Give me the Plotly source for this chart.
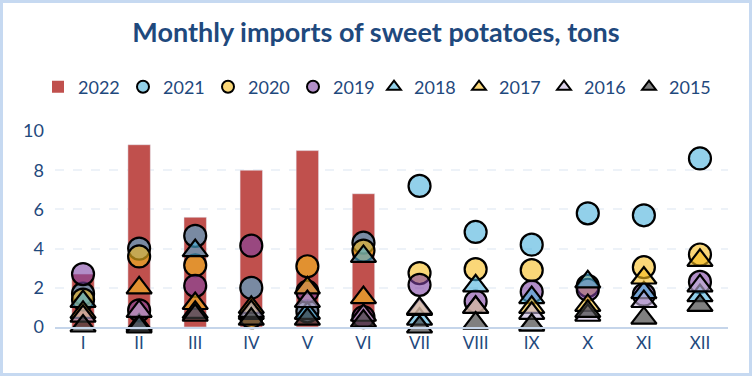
import plotly.graph_objects as go

months = ["I", "II", "III", "IV", "V", "VI", "VII", "VIII", "IX", "X", "XI", "XII"]
y2022 = [2.7, 9.3, 5.6, 8.0, 9.0, 6.8, None, None, None, None, None, None]
y2021 = [1.7, 4.0, 4.65, 2.0, 0.8, 4.3, 7.2, 4.85, 4.2, 5.8, 5.7, 8.6]
y2020 = [1.4, 3.6, 3.15, 0.5, 3.1, 3.9, 2.75, 2.95, 2.9, 2.1, 3.05, 3.7]
y2019 = [2.7, 0.85, 2.1, 4.15, 1.8, 0.5, 2.15, 1.3, 1.8, 1.9, 1.65, 2.3]
y2018 = [1.3, 0.1, 3.9, 0.7, 0.7, 3.6, 0.4, 2.1, 1.5, 2.3, 1.75, 1.6]
y2017 = [0.75, 2.0, 1.2, 1.0, 2.0, 1.5, 0.9, 1.0, 1.0, 1.1, 2.5, 3.4]
y2016 = [0.55, 0.8, 0.75, 0.8, 1.3, 0.6, 0.95, 1.0, 0.7, 0.6, 1.3, 2.1]
y2015 = [0.05, 0.0, 0.6, 0.4, 0.4, 0.3, 0.0, 0.2, 0.1, 0.8, 0.45, 1.1]
y_ticks = [0, 2, 4, 6, 8, 10]

TXT = "#1F497D"
FONT = "Lato"

fig = go.Figure()
fig.add_trace(go.Bar(x=months, y=y2022, name="2022", marker=dict(color="#C0504D"),
                     width=0.4, showlegend=False))

series = [
    ("2021", y2021, "circle", "rgba(73,177,220,0.6)", "rgb(146,208,232)"),
    ("2020", y2020, "circle", "rgba(247,188,30,0.6)", "rgb(250,215,120)"),
    ("2019", y2019, "circle", "rgba(127,67,163,0.6)", "rgb(178,142,200)"),
    ("2018", y2018, "triangle-up", "rgba(73,177,220,0.6)", "rgb(146,208,232)"),
    ("2017", y2017, "triangle-up", "rgba(247,188,30,0.6)", "rgb(250,215,120)"),
    ("2016", y2016, "triangle-up", "rgba(193,177,217,0.6)", "rgb(218,208,232)"),
    ("2015", y2015, "triangle-up", "rgba(60,60,60,0.65)", "rgb(127,127,127)"),
]
for name, ys, sym, col, lcol in series:
    fig.add_trace(go.Scatter(
        x=months, y=ys, name=name, mode="markers", cliponaxis=False, showlegend=False,
        marker=dict(symbol=sym, size=22, color=col,
                    line=dict(color="black", width=2.2)),
    ))

# legend-only entries (small symbols like the reference legend), split in two legends
fig.add_trace(go.Scatter(x=[None], y=[None], name="2022", mode="markers", legend="legend",
                         marker=dict(symbol="square", size=12, color="#C0504D")))
for i, (name, ys, sym, col, lcol) in enumerate(series):
    fig.add_trace(go.Scatter(x=[None], y=[None], name=name, mode="markers",
                             legend="legend" if i < 3 else "legend2",
                             marker=dict(symbol=sym, size=12, color=lcol,
                                         line=dict(color="black", width=2))))

W, H = 752, 376
ml, mr, mt, mb = 55, 24, 131, 49
pw, ph = W - ml - mr, H - mt - mb

leg_common = dict(orientation="h", xref="container", yref="container",
                  xanchor="left", y=1 - 87 / H, yanchor="middle",
                  font=dict(size=18, color=TXT), itemwidth=30, entrywidth=40,
                  traceorder="normal", tracegroupgap=0, bgcolor="rgba(0,0,0,0)")

fig.update_layout(
    width=W, height=H,
    margin=dict(l=ml, r=mr, t=mt, b=mb, autoexpand=False),
    paper_bgcolor="white", plot_bgcolor="white",
    font=dict(family=FONT, color=TXT, size=16),
    title=dict(text="<b>Monthly imports of sweet potatoes, tons</b>",
               x=0.5, xanchor="center", y=1 - 33 / H, yanchor="middle",
               font=dict(family=FONT, size=27, color=TXT)),
    showlegend=True,
    legend=dict(x=38 / W, **leg_common),
    legend2=dict(x=374 / W, **leg_common),
    barmode="overlay",
    xaxis=dict(range=[-0.5, 11.5], autorange=False, showgrid=False, showline=True,
               linecolor="#C5D5EA", linewidth=2,
               ticks="", tickfont=dict(size=17, color=TXT)),
    yaxis=dict(range=[0, 10], tickvals=y_ticks, showgrid=True,
               gridcolor="#EDF2F8", griddash="dash", gridwidth=1.5, zeroline=False,
               showline=False, ticks="", tickfont=dict(size=18, color=TXT),
               ticklabelstandoff=10),
    shapes=[dict(type="rect", xref="paper", yref="paper",
                 x0=-(ml - 1.5) / pw, x1=1 + (mr - 1.5) / pw,
                 y0=-(mb - 1.5) / ph, y1=1 + (mt - 1.5) / ph,
                 line=dict(color="#C6D9F1", width=3))],
)

fig.write_html("out.html", config={"displayModeBar": False},
               post_script="document.body.style.margin='0';")
